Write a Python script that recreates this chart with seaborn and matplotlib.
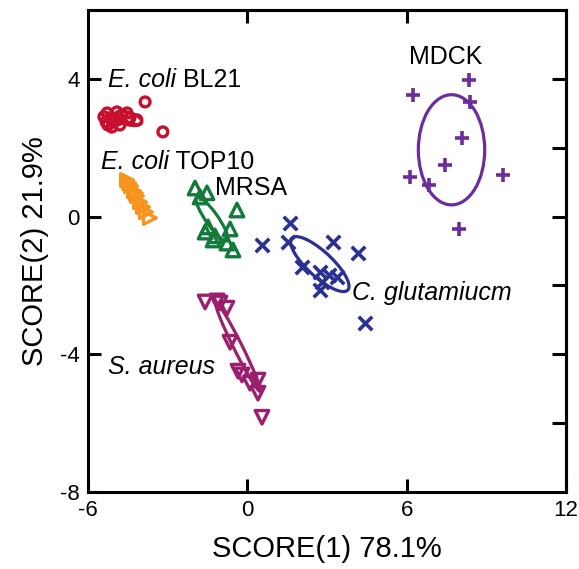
import numpy as np
import pandas as pd
import matplotlib
matplotlib.use("Agg")
import matplotlib.pyplot as plt
from matplotlib.patches import Ellipse
import seaborn as sns

# ---------------- data ----------------
groups = ["E. coli BL21", "E. coli TOP10", "MRSA", "S. aureus", "C. glutamiucm", "MDCK"]

bl21_x = [-5.28, -5.17, -5.06, -5.25, -4.91, -4.72, -4.53, -4.87, -4.42, -4.16, -3.85, -3.18,
          -5.40, -5.32, -5.10, -4.80]
bl21_y = [3.01, 2.87, 2.75, 2.66, 3.04, 2.95, 3.01, 2.81, 2.87, 2.81, 3.33, 2.46,
          2.90, 2.75, 2.60, 2.66]

top10_x = [-4.53, -4.38, -4.27, -4.16, -4.04, -3.93, -3.82, -3.67, -4.45, -4.20]
top10_y = [1.06, 0.89, 0.74, 0.60, 0.42, 0.28, 0.13, -0.04, 0.97, 0.68]

mrsa_x = [-1.97, -1.52, -1.78, -0.39, -1.48, -1.59, -1.22, -0.65, -0.77, -0.54, -1.29]
mrsa_y = [0.83, 0.69, 0.57, 0.19, -0.30, -0.45, -0.56, -0.36, -0.77, -0.97, -0.68]

saur_x = [-1.59, -1.14, -0.77, -0.65, -0.35, -0.20, 0.10, 0.40, 0.40, 0.55, -1.03]
saur_y = [-2.48, -2.45, -2.66, -3.65, -4.49, -4.60, -4.84, -4.75, -5.13, -5.83, -2.51]

cglu_x = [0.55, 1.61, 1.53, 3.22, 4.17, 2.06, 2.73, 3.07, 3.37, 2.81, 2.73, 4.43]
cglu_y = [-0.83, -0.19, -0.74, -0.74, -1.06, -1.47, -1.61, -1.70, -1.76, -1.90, -2.13, -3.09]

mdck_x = [6.24, 8.34, 8.38, 8.08, 7.44, 6.12, 6.84, 9.63, 7.97]
mdck_y = [3.53, 3.97, 3.33, 2.28, 1.50, 1.15, 0.92, 1.21, -0.36]

# confidence ellipses: center x, center y, width, height, angle (deg)
ell_groups = ["E. coli BL21", "MRSA", "S. aureus", "C. glutamiucm", "MDCK"]
ell_cx = [-4.49, -1.33, -0.35, 2.73, 7.69]
ell_cy = [2.85, -0.07, -3.79, -1.38, 1.94]
ell_w = [1.05, 1.70, 3.05, 2.60, 2.50]
ell_h = [0.36, 0.42, 0.30, 0.80, 3.20]
ell_ang = [-12, -47, -57, -34, 0]

x_ticks = [-6, 0, 6, 12]
y_ticks = [-8, -4, 0, 4]
y_ticks_right = [-6, -4, -2, 0, 2, 4]
x_ticks_top = [0, 6]

colors = {
    "E. coli BL21": "#C8102E",
    "E. coli TOP10": "#F7941D",
    "MRSA": "#137A3B",
    "S. aureus": "#9C1F6E",
    "C. glutamiucm": "#2B3192",
    "MDCK": "#6B2C9E",
}
markers = {
    "E. coli BL21": "o",
    "E. coli TOP10": ">",
    "MRSA": "^",
    "S. aureus": "v",
    "C. glutamiucm": "x",
    "MDCK": "+",
}

xs = [bl21_x, top10_x, mrsa_x, saur_x, cglu_x, mdck_x]
ys = [bl21_y, top10_y, mrsa_y, saur_y, cglu_y, mdck_y]
df = pd.concat([pd.DataFrame({"x": x, "y": y, "group": g}) for g, x, y in zip(groups, xs, ys)],
               ignore_index=True)

# ---------------- style ----------------
sns.set_theme(style="white")
plt.rcParams["font.family"] = ["Liberation Sans", "DejaVu Sans"]
plt.rcParams["text.color"] = "black"
plt.rcParams["axes.labelcolor"] = "black"
plt.rcParams["xtick.color"] = "black"
plt.rcParams["ytick.color"] = "black"

fig = plt.figure(figsize=(5.79, 5.69), dpi=100)
ax = fig.add_axes([0.152, 0.1353, 0.8255, 0.8471])

sizes = {"o": 50, ">": 85, "^": 95, "v": 95, "x": 95, "+": 105}
for g in groups:
    sub = df[df["group"] == g]
    m = markers[g]
    c = colors[g]
    if m in ("x", "+"):
        sns.scatterplot(data=sub, x="x", y="y", marker=m, color=c, s=sizes[m],
                        linewidth=2.6, ax=ax, legend=False, zorder=3)
    else:
        sns.scatterplot(data=sub, x="x", y="y", marker=m, facecolor="none",
                        edgecolor=c, color=c, s=sizes[m], linewidth=2.4,
                        ax=ax, legend=False, zorder=3)

for g, cx, cy, w, h, a in zip(ell_groups, ell_cx, ell_cy, ell_w, ell_h, ell_ang):
    ax.add_patch(Ellipse((cx, cy), w, h, angle=a, fill=False, edgecolor=colors[g],
                         linewidth=2.3, zorder=2))

# labels
fs_lab = 18


def label(x, y, italic_part, normal_part):
    t = ax.text(x, y, italic_part, fontsize=fs_lab, ha="left", va="center",
                style="italic", color="black")
    if normal_part:
        ax.annotate(normal_part, xy=(1, 0.5), xycoords=t, ha="left", va="center",
                    fontsize=fs_lab, color="black")


label(-5.25, 3.97, "E. coli", " BL21")
label(-5.51, 1.59, "E. coli", " TOP10")
ax.text(-1.22, 0.83, "MRSA", fontsize=fs_lab, ha="left", va="center")
label(3.94, -2.22, "C. glutamiucm", "")
label(-5.25, -4.37, "S. aureus", "")
ax.text(7.46, 4.64, "MDCK", fontsize=fs_lab, ha="center", va="center")

ax.set_xlim(-6, 12)
ax.set_ylim(-8, 6)
ax.set_xticks(x_ticks)
ax.set_yticks(y_ticks)
ax.set_xticklabels([str(t) for t in x_ticks])
ax.set_yticklabels([str(t) for t in y_ticks])
ax.tick_params(direction="in", length=9.5, width=2.2, labelsize=16, pad=6,
               colors="black", left=True, bottom=True)

sec_y = ax.secondary_yaxis("right")
sec_y.set_yticks(y_ticks_right)
sec_y.tick_params(direction="in", length=10, width=2.2, labelright=False, colors="black")
sec_y.spines["right"].set_linewidth(2.2)
sec_x = ax.secondary_xaxis("top")
sec_x.set_xticks(x_ticks_top)
sec_x.tick_params(direction="in", length=9, width=2.2, labeltop=False, colors="black")
sec_x.spines["top"].set_linewidth(2.2)

for s in ax.spines.values():
    s.set_linewidth(2.2)
    s.set_color("black")

ax.set_xlabel("SCORE(1) 78.1%", fontsize=21, labelpad=10)
ax.set_ylabel("SCORE(2) 21.9%", fontsize=21, labelpad=8)

fig.savefig("out.png", dpi=100)
